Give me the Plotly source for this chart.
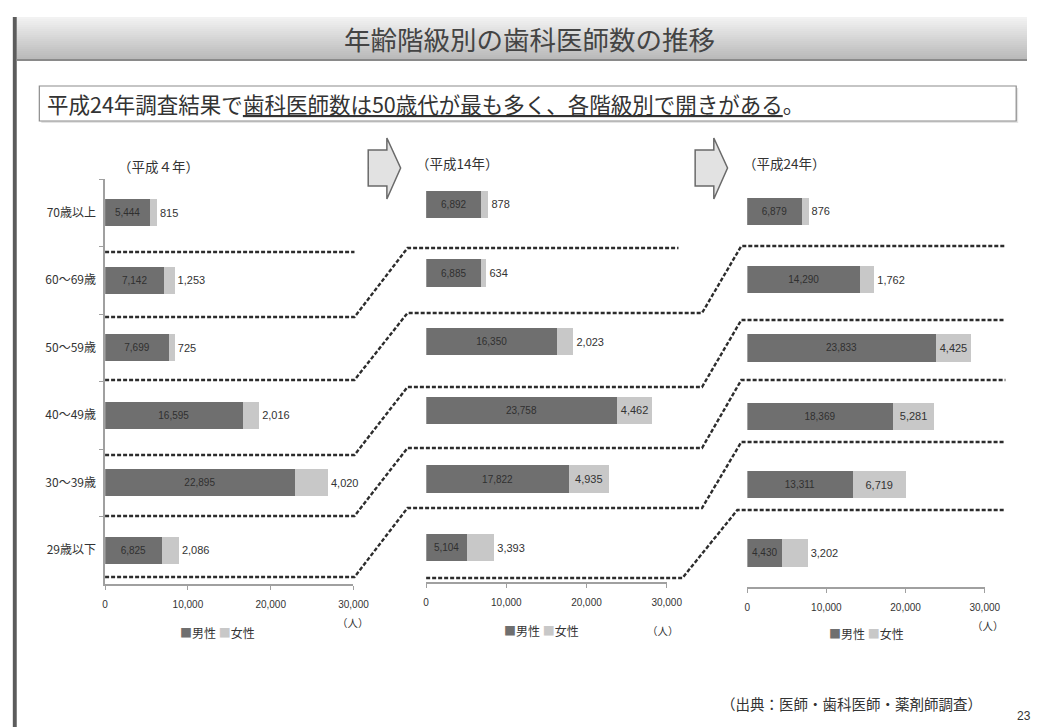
import plotly.graph_objects as go

# ---- data -------------------------------------------------------------
ages = ["70歳以上", "60～69歳", "50～59歳", "40～49歳", "30～39歳", "29歳以下"]
year_labels = ["（平成４年）", "（平成14年）", "（平成24年）"]

male_h4 = [5444, 7142, 7699, 16595, 22895, 6825]
female_h4 = [815, 1253, 725, 2016, 4020, 2086]
male_h14 = [6892, 6885, 16350, 23758, 17822, 5104]
female_h14 = [878, 634, 2023, 4462, 4935, 3393]
male_h24 = [6879, 14290, 23833, 18369, 13311, 4430]
female_h24 = [876, 1762, 4425, 5281, 6719, 3202]

x_ticks = [0, 10000, 20000, 30000]
x_tick_text = ["0", "10,000", "20,000", "30,000"]

# ---- page geometry helpers ------------------------------------------
W, H = 1043, 727


def px(x):
    return x / W


def py(y):
    return 1 - y / H


MALE = "#6f6f6f"
FEMALE = "#c8c8c8"
JP = "Noto Sans CJK JP"
NUM = "Liberation Sans"

panels = [
    dict(male=male_h4, female=female_h4, x=(104, 357), y=(179, 584), ax=""),
    dict(male=male_h14, female=female_h14, x=(431, 676), y=(170, 582), ax="2"),
    dict(male=male_h24, female=female_h24, x=(758, 1000), y=(177, 587), ax="3"),
]

fig = go.Figure()

for i, p in enumerate(panels):
    xa, ya = "x" + p["ax"], "y" + p["ax"]
    fig.add_trace(go.Bar(
        y=ages, x=p["male"], orientation="h", name="男性",
        xaxis=xa, yaxis=ya, width=0.4,
        marker=dict(color=MALE, line=dict(width=0)),
        texttemplate="%{x:,}", textposition="inside",
        insidetextanchor="middle", constraintext="none",
        textfont=dict(family=NUM, size=10, color="#2f2f2f"),
        showlegend=False, hoverinfo="skip",
    ))
    fig.add_trace(go.Bar(
        y=ages, x=p["female"], orientation="h", name="女性",
        xaxis=xa, yaxis=ya, width=0.4,
        marker=dict(color=FEMALE, line=dict(width=0)),
        texttemplate="%{x:,}",
        textposition=["inside" if v > 4400 else "outside" for v in p["female"]],
        insidetextanchor="middle", constraintext="none", cliponaxis=False,
        textfont=dict(family=NUM, size=11, color="#333333"),
        outsidetextfont=dict(family=NUM, size=11, color="#333333"),
        showlegend=False, hoverinfo="skip",
    ))

layout = dict(
    width=W, height=H, autosize=False,
    margin=dict(l=0, r=0, t=0, b=0),
    paper_bgcolor="white", plot_bgcolor="white",
    barmode="stack",
    font=dict(family=JP, color="#333333"),
)

for i, p in enumerate(panels):
    xk, yk = "xaxis" + p["ax"], "yaxis" + p["ax"]
    layout[xk] = dict(
        domain=[px(p["x"][0]), px(p["x"][1])],
        anchor="y" + p["ax"],
        range=[0, 30000], tickvals=x_ticks, ticktext=x_tick_text,
        showline=True, linecolor="#a0a0a0", linewidth=1.5,
        ticks="outside", ticklen=4, tickcolor="#a0a0a0",
        showgrid=False, zeroline=False, fixedrange=True,
        ticklabelstandoff=6,
        tickfont=dict(family=NUM, size=10, color="#333333"),
    )
    layout[yk] = dict(
        domain=[py(p["y"][1]), py(p["y"][0])],
        anchor="x" + p["ax"],
        type="category", categoryorder="array", categoryarray=ages,
        range=[5.5, -0.5],
        showgrid=False, zeroline=False, fixedrange=True,
        showline=(i == 0), linecolor="#a0a0a0", linewidth=1.5,
        ticks="outside" if i == 0 else "", tickson="boundaries",
        ticklen=4, tickcolor="#a0a0a0",
        showticklabels=(i == 0), ticklabelstandoff=5,
        tickfont=dict(family=JP, size=12, color="#333333"),
    )

fig.update_layout(**layout)

shapes = []

# left page border
shapes.append(dict(type="rect", xref="paper", yref="paper",
                   x0=px(10), x1=px(14), y0=py(727), y1=py(17),
                   fillcolor="#5c5c5c", line=dict(width=0), layer="above"))

# title band with a soft vertical gradient
band_top, band_bot, steps = 17, 59, 21
c0, c1 = 242, 186
for s in range(steps):
    y0 = band_top + (band_bot - band_top) * s / steps
    y1 = band_top + (band_bot - band_top) * (s + 1) / steps
    c = int(round(c0 + (c1 - c0) * s / (steps - 1)))
    shapes.append(dict(type="rect", xref="paper", yref="paper",
                       x0=px(14), x1=1, y0=py(y1 + 0.3), y1=py(y0),
                       fillcolor=f"rgb({c},{c},{c})", line=dict(width=0),
                       layer="below"))
shapes.append(dict(type="line", xref="paper", yref="paper",
                   x0=px(14), x1=1, y0=py(60), y1=py(60),
                   line=dict(color="#8a8a8a", width=2)))

# headline box
shapes.append(dict(type="rect", xref="paper", yref="paper",
                   x0=px(39), x1=px(1034), y0=py(123), y1=py(88),
                   fillcolor="#e4e4e4", line=dict(width=0), layer="below"))
shapes.append(dict(type="rect", xref="paper", yref="paper",
                   x0=px(37), x1=px(1032), y0=py(121), y1=py(86),
                   fillcolor="white", line=dict(color="#8c8c8c", width=1.2),
                   layer="below"))

# block arrows between panels
for x0 in (372, 705):
    pts = [(x0, 150), (x0 + 19, 150), (x0 + 19, 138), (x0 + 33, 168),
           (x0 + 19, 199), (x0 + 19, 186), (x0, 186)]
    path = "M " + " L ".join(f"{px(a):.5f},{py(b):.5f}" for a, b in pts) + " Z"
    shapes.append(dict(type="path", xref="paper", yref="paper", path=path,
                       fillcolor="#e2e2e2", line=dict(color="#6a6a6a", width=1.5)))

# dashed cohort separators running across the three panels
sep1 = [252, 317, 380, 455, 516, 577]
sep2 = [248, 313, 387, 448, 508, 578]
sep3 = [246, 320, 380, 442, 510]


def dashed(points):
    path = "M " + " L ".join(f"{px(a):.5f},{py(b):.5f}" for a, b in points)
    return dict(type="path", xref="paper", yref="paper", path=path,
                line=dict(color="#2c2c2c", width=2.4, dash="4px,2px"))


shapes.append(dashed([(104, sep1[0]), (358, sep1[0])]))
for k in range(1, 6):
    pts = [(104, sep1[k]), (358, sep1[k]), (412, sep2[k - 1])]
    if k == 1:
        pts.append((688, sep2[0]))
    else:
        pts += [(712, sep2[k - 1]), (752, sep3[k - 2]), (1021, sep3[k - 2])]
    shapes.append(dashed(pts))
shapes.append(dashed([(431, sep2[5]), (692, sep2[5]), (748, sep3[4]), (1021, sep3[4])]))

fig.update_layout(shapes=shapes)

ann = []


def note(x, y, text, size, xanchor="center", color="#333333", family=JP):
    ann.append(dict(xref="paper", yref="paper", x=px(x), y=py(y), text=text,
                    showarrow=False, xanchor=xanchor, yanchor="middle",
                    font=dict(family=family, size=size, color=color)))


note(536, 38, "年齢階級別の歯科医師数の推移", 26.5, color="#444444")
note(43, 103,
     "平成24年調査結果で<u>歯科医師数は50歳代が最も多く、各階級別で開きがある</u>。",
     21.5, xanchor="left", color="#333333")

for (x, y), t in zip([(158, 166), (463, 163), (796, 163)], year_labels):
    note(x, y, t, 13.5)

for x, y in [(357, 622), (672, 630), (1003, 625)]:
    note(x, y, "（人）", 10.5)

legend_txt = (f"<span style='color:{MALE}'>■</span>男性 "
              f"<span style='color:{FEMALE}'>■</span>女性")
for x, y in [(218, 632), (548, 630), (880, 633)]:
    note(x, y, legend_txt, 12)

note(729, 703, "（出典：医師・歯科医師・薬剤師調査）", 14.5, xanchor="left")
note(1031, 716, "23", 12, xanchor="left", family=NUM)

fig.update_layout(annotations=ann)

fig.write_html("out.html")
